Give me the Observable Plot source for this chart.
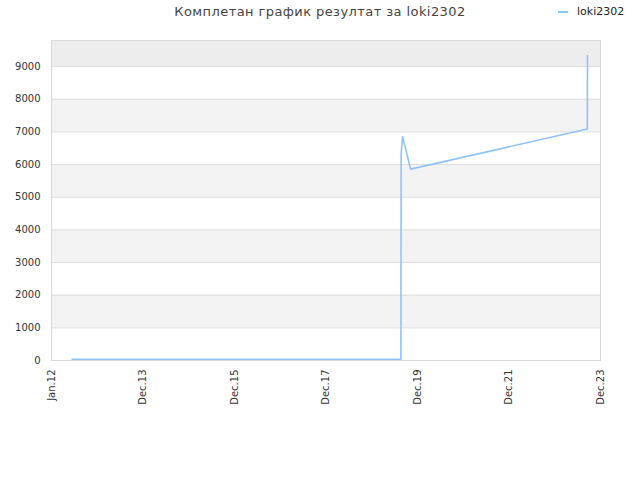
<!DOCTYPE html>
<html>
<head>
<meta charset="utf-8">
<script src="https://cdn.jsdelivr.net/npm/d3@7"></script>
<script src="https://cdn.jsdelivr.net/npm/@observablehq/plot@0.6"></script>
<style>
  body { margin: 0; background: white; font-family: "DejaVu Sans", sans-serif; }
  #wrap { position: relative; width: 640px; height: 480px; }
  #title { position: absolute; left: 0; width: 640px; top: 4px; text-align: center; font-size: 13px; color: #444; letter-spacing: 0.42px; }
  #legend { position: absolute; left: 558px; top: 5px; font-size: 11px; color: #222; display: flex; align-items: center; }
  #legend span.sw { display: inline-block; width: 10px; height: 2px; background: #90c3f5; margin-right: 9px; }
  #chart { position: absolute; left: 0; top: 0; }
</style>
</head>
<body>
<div id="wrap">
  <div id="chart"></div>
  <div id="title">Комплетан график резултат за loki2302</div>
  <div id="legend"><span class="sw"></span><span>loki2302</span></div>
</div>
<script>
// data
const dates = ["2012-06-14", "2019-08-21", "2019-08-23", "2019-09-03", "2019-11-06", "2023-09-17", "2023-09-18"];
const values = [40, 40, 6330, 6860, 5860, 7090, 9340];
const tickDates = ["2012-01-01", "2013-12-31", "2015-12-31", "2017-12-31", "2019-12-31", "2021-12-31", "2023-12-31"];
const tickLabels = ["Jan.12", "Dec.13", "Dec.15", "Dec.17", "Dec.19", "Dec.21", "Dec.23"];
const yTicks = [0, 1000, 2000, 3000, 4000, 5000, 6000, 7000, 8000, 9000];
const bandLow = [1000, 3000, 5000, 7000, 9000];
const bandHigh = [2000, 4000, 6000, 8000, 9800];

const data = dates.map((d, i) => ({date: new Date(d), value: values[i]}));
const xStart = new Date(tickDates[0]);
const xEnd = new Date(tickDates[tickDates.length - 1]);
const bands = bandLow.map((lo, i) => ({lo, hi: bandHigh[i], fill: i === bandLow.length - 1 ? "#ededed" : "#f3f3f3"}));
const labelMap = new Map(tickDates.map((d, i) => [+new Date(d), tickLabels[i]]));

const chart = Plot.plot({
  width: 640,
  height: 480,
  marginLeft: 51,
  marginRight: 40,
  marginTop: 40,
  marginBottom: 120,
  style: {fontFamily: "DejaVu Sans", fontSize: "10px", color: "#333", background: "white"},
  x: {type: "utc", domain: [xStart, xEnd]},
  y: {domain: [0, 9800]},
  marks: [
    Plot.rect(bands, {x1: () => xStart, x2: () => xEnd, y1: "lo", y2: "hi", fill: "fill"}),
    Plot.ruleY(yTicks, {stroke: "#dddddd"}),
    Plot.frame({stroke: "#d8d8d8"}),
    Plot.line(data, {x: "date", y: "value", stroke: "#90c3f5", strokeWidth: 1.6}),
    Plot.axisY({ticks: yTicks, tickSize: 0, tickPadding: 11, tickFormat: d => String(d), fill: "#333"}),
    Plot.axisX({ticks: tickDates.map(d => new Date(d)), tickFormat: d => labelMap.get(+d), tickRotate: -90, tickSize: 0, tickPadding: 9, fill: "#333"})
  ]
});
document.getElementById("chart").appendChild(chart);
</script>
</body>
</html>
